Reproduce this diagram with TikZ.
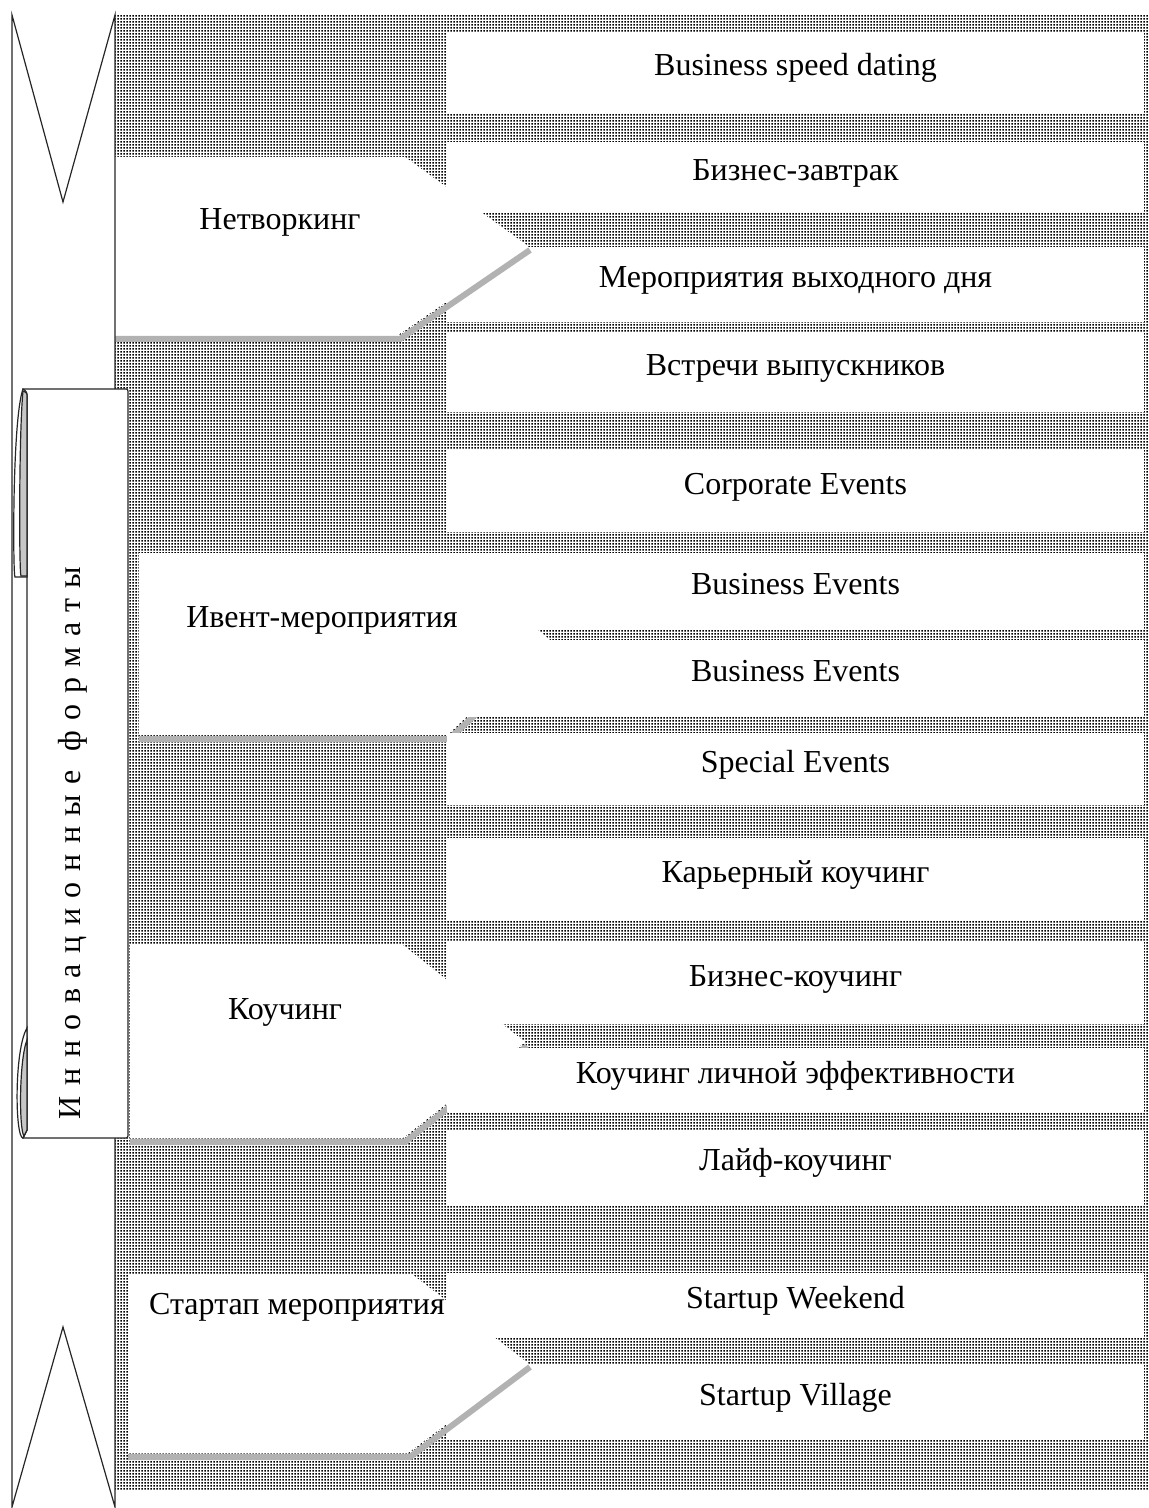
\documentclass[tikz,border=0pt]{standalone}
\usepackage{fontspec}
\setmainfont{Liberation Serif}
\usetikzlibrary{patterns}
\pgfdeclarepatternformonly{fdots}{\pgfqpoint{0pt}{0pt}}{\pgfqpoint{1.5pt}{1.5pt}}{\pgfqpoint{1.5pt}{1.5pt}}{%
  \pgfpathrectangle{\pgfqpoint{0.25pt}{0.25pt}}{\pgfqpoint{1pt}{1pt}}\pgfusepath{fill}}

\begin{document}
\begin{tikzpicture}[x=0.5pt,y=-0.5pt,semithick,
  every node/.style={font=\fontsize{16}{19}\selectfont,inner sep=0pt},
  item/.style={fill=white,minimum width=348.5pt,text height=0.72em,text depth=0.42em},
  cat/.style={fill=white},
  shade/.style={draw=black!30,line width=3pt},
  roll/.style={draw=black!85,line width=0.6pt}]
\useasboundingbox (0,0) rectangle (1148,1508);
\fill[pattern=fdots,pattern color=black] (115,15) rectangle (1148,1490);

\draw[shade] (139,739) -- (449,739) -- (552,644);
\fill[cat] (139,553) -- (447,553) -- (550,640) -- (447,735) -- (139,735) -- cycle;
\draw[shade] (130,1142) -- (405,1142) -- (527,1046);
\fill[cat] (130,945) -- (403,945) -- (525,1042) -- (403,1138) -- (130,1138) -- cycle;

\foreach \n/\y/\h/\t in {1/73/40/Business speed dating, 2/177.5/35.5/Бизнес-завтрак,
    3/284.5/37.5/Мероприятия выходного дня, 4/372.5/39.5/Встречи выпускников,
    5/491/41/Corporate Events, 6/591.5/38.5/Business Events, 7/678.5/38.5/Business Events,
    8/769/36/Special Events, 9/879/41/Карьерный коучинг, 10/983/41/Бизнес-коучинг,
    11/1080/32/Коучинг личной эффективности, 12/1167/37.5/Лайф-коучинг,
    13/1305/32/Startup Weekend, 14/1402.5/37.5/Startup Village}
  \node[item,minimum height=\h pt] (b\n) at (795.5,\y) {\t};

\draw[shade] (115,339) -- (400,339) -- (530,250);
\fill[cat] (115,157) -- (405,157) -- (528,246) -- (398,335) -- (115,335) -- cycle;
\draw[shade] (128,1457) -- (410,1457) -- (530,1367);
\fill[cat] (128,1275) -- (413,1275) -- (528,1363) -- (408,1453) -- (128,1453) -- cycle;

\node (net) at (280,222) {Нетворкинг};
\node (event) at (322,620) {Ивент-мероприятия};
\node (coach) at (285,1012) {Коучинг};
\node (start) at (297,1307) {Стартап мероприятия};

\filldraw[roll,fill=white] (12,15) -- (63,202) -- (115,15) -- (115,1507) -- (63,1327) -- (12,1507) -- cycle;
\filldraw[roll,fill=white] (23,389) -- (124,389) .. controls (128,389) .. (128,394) -- (128,1133)
  .. controls (128,1138) .. (124,1138) -- (23,1138) -- (27,1130) -- (27,397) -- cycle;
\filldraw[roll,fill=white] (23,389) .. controls (12,420) and (13,577) .. (15,577) -- (27,577) -- (27,397) .. controls (27,392) .. (23,389);
\filldraw[roll,fill=black!22] (23,391) .. controls (19,430) and (19,572) .. (21,576) -- (27,576) -- (27,397) .. controls (27,393) .. (23,391);
\filldraw[roll,fill=white] (27,1028) .. controls (14,1050) and (15,1138) .. (23,1138) -- (27,1130) -- cycle;
\filldraw[roll,fill=black!22] (27,1040) .. controls (19,1060) and (19,1130) .. (24,1136) -- (27,1130) -- cycle;
\node[rotate=90] (title) at (73,843) {\addfontfeature{LetterSpace=33}Инновационные форматы};
\end{tikzpicture}
\end{document}
